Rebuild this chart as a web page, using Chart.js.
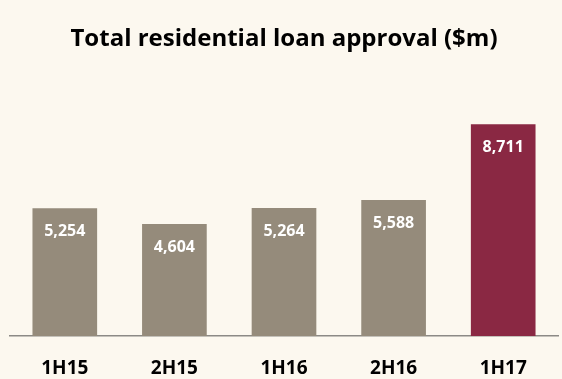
<!DOCTYPE html>
<html>
<head>
<meta charset="utf-8">
<script src="https://cdn.jsdelivr.net/npm/chart.js@4/dist/chart.umd.min.js"></script>
<style>
  html, body { margin: 0; padding: 0; background: #fcf8ef; }
  #wrap { width: 562px; height: 379px; position: relative; }
</style>
</head>
<body>
<div id="wrap"><canvas id="c" width="562" height="379"></canvas></div>
<script>
const categories = ["1H15", "2H15", "1H16", "2H16", "1H17"];
const approvals = [5254, 4604, 5264, 5588, 8711];
const valueLabels = ["5,254", "4,604", "5,264", "5,588", "8,711"];
const barColors = ["#958b7b", "#958b7b", "#958b7b", "#958b7b", "#8a2843"];
const titleText = "Total residential loan approval ($m)";

const valueLabelPlugin = {
  id: 'valueLabels',
  afterDatasetsDraw(chart) {
    const ctx = chart.ctx;
    const meta = chart.getDatasetMeta(0);
    ctx.save();
    ctx.fillStyle = '#ffffff';
    ctx.font = 'bold 16px "Open Sans"';
    ctx.textAlign = 'center';
    ctx.textBaseline = 'middle';
    meta.data.forEach((bar, i) => {
      ctx.fillText(valueLabels[i], bar.x, bar.y + 23);
    });
    ctx.restore();
  }
};

new Chart(document.getElementById('c'), {
  type: 'bar',
  data: {
    labels: categories,
    datasets: [{
      data: approvals,
      backgroundColor: barColors,
      borderWidth: 0,
      categoryPercentage: 1.0,
      barPercentage: 0.59
    }]
  },
  options: {
    responsive: false,
    animation: false,
    devicePixelRatio: 1,
    layout: { padding: { left: 10, right: 4, top: 0, bottom: 0 } },
    plugins: {
      legend: { display: false },
      tooltip: { enabled: false },
      title: {
        display: true,
        text: titleText,
        color: '#000000',
        font: { family: 'Open Sans', size: 24, weight: 'bold' },
        padding: { top: 25, bottom: 39 }
      }
    },
    scales: {
      x: {
        grid: { display: false, drawTicks: false },
        border: { display: true, color: '#8c8a86', width: 1.5 },
        ticks: {
          color: '#000000',
          font: { family: 'Open Sans', size: 19, weight: 'bold' },
          padding: 21
        },
        afterFit(scale) { scale.height = 43; }
      },
      y: {
        display: false,
        min: 0,
        max: 10000
      }
    }
  },
  plugins: [valueLabelPlugin]
});
</script>
</body>
</html>
